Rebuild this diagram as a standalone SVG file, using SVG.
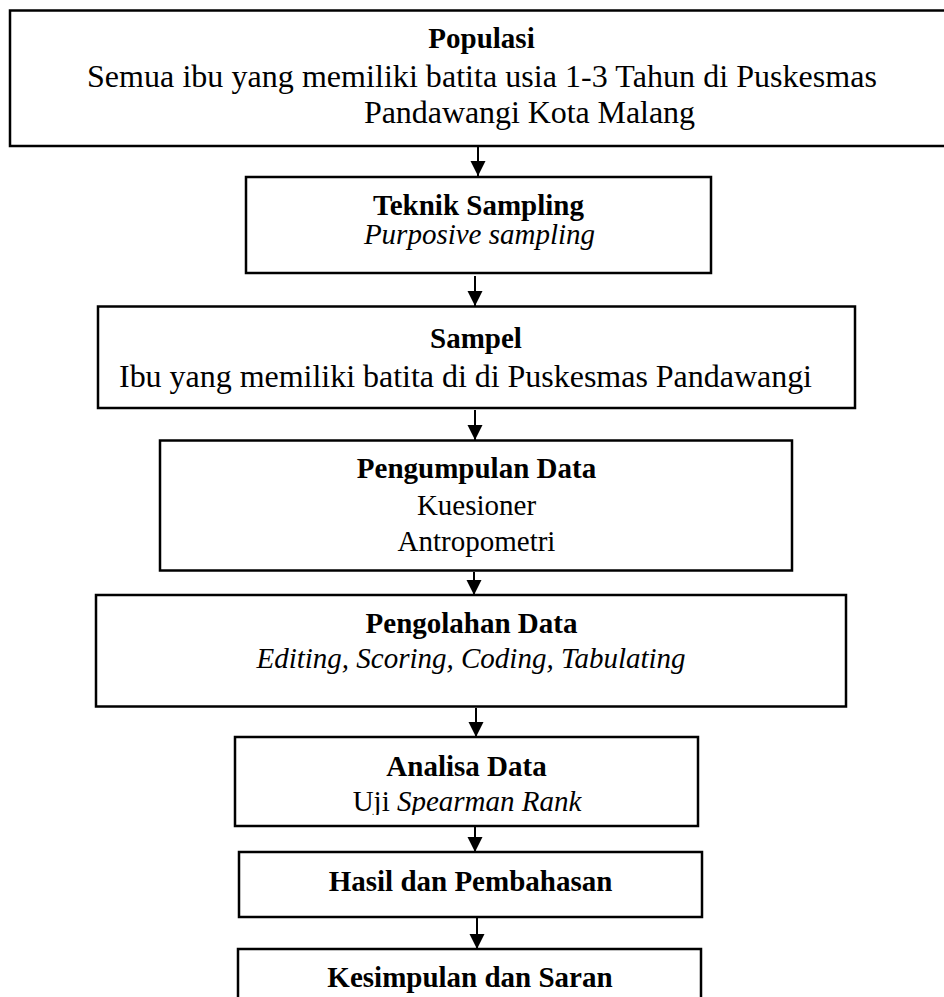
<svg xmlns="http://www.w3.org/2000/svg" width="944" height="997" viewBox="0 0 944 997">
<style>
.box{fill:#fff;stroke:#000;stroke-width:2.5}
.t{font-family:"Liberation Serif","Times New Roman",serif;font-size:29px;fill:#000;text-anchor:middle}
.b{font-weight:bold}
.i{font-style:italic}
.big{font-size:32px}
.c{stroke:#000;stroke-width:2;fill:none}
</style>
<defs>
<marker id="ah" viewBox="0 0 10 10" refX="10" refY="5" markerWidth="15" markerHeight="16" markerUnits="userSpaceOnUse" orient="auto">
<path d="M0,0 L10,5 L0,10 z" fill="#000"/>
</marker>
<clipPath id="clip6"><rect x="235" y="737" width="463" height="78"/></clipPath>
</defs>
<rect width="944" height="997" fill="#fff"/>
<g id="connectors">
<line class="c" x1="478" y1="147" x2="478" y2="176" marker-end="url(#ah)"/>
<line class="c" x1="475" y1="276" x2="475" y2="306" marker-end="url(#ah)"/>
<line class="c" x1="475" y1="410" x2="475" y2="440" marker-end="url(#ah)"/>
<line class="c" x1="474" y1="572" x2="474" y2="595" marker-end="url(#ah)"/>
<line class="c" x1="476" y1="708" x2="476" y2="737" marker-end="url(#ah)"/>
<line class="c" x1="475" y1="826" x2="475" y2="852" marker-end="url(#ah)"/>
<line class="c" x1="477" y1="918" x2="477" y2="949" marker-end="url(#ah)"/>
</g>
<g id="populasi">
<rect class="box" x="10" y="10.5" width="940" height="135.5"/>
<text class="t b" x="481.5" y="47.5">Populasi</text>
<text class="t big" x="87" y="87" style="text-anchor:start" textLength="790" lengthAdjust="spacing">Semua ibu yang memiliki batita usia 1-3 Tahun di Puskesmas</text>
<text class="t big" x="364" y="123" style="text-anchor:start" textLength="331" lengthAdjust="spacing">Pandawangi Kota Malang</text>
</g>
<g id="teknik-sampling">
<rect class="box" x="246" y="177" width="465" height="96"/>
<text class="t b" x="478.5" y="215">Teknik Sampling</text>
<text class="t i" x="479.5" y="244">Purposive sampling</text>
</g>
<g id="sampel">
<rect class="box" x="98" y="306.5" width="757" height="101.5"/>
<text class="t b" x="476" y="348">Sampel</text>
<text class="t big" x="119" y="387" style="text-anchor:start" textLength="693" lengthAdjust="spacing">Ibu yang memiliki batita di di Puskesmas Pandawangi</text>
</g>
<g id="pengumpulan-data">
<rect class="box" x="160" y="440.5" width="632" height="130"/>
<text class="t b" x="476.5" y="478">Pengumpulan Data</text>
<text class="t" x="476.5" y="515">Kuesioner</text>
<text class="t" x="476.5" y="551">Antropometri</text>
</g>
<g id="pengolahan-data">
<rect class="box" x="96" y="595" width="750" height="111.5"/>
<text class="t b" x="471.5" y="633">Pengolahan Data</text>
<text class="t i" x="471" y="668">Editing, Scoring, Coding, Tabulating</text>
</g>
<g id="analisa-data">
<rect class="box" x="235" y="737" width="463" height="89"/>
<g clip-path="url(#clip6)">
<text class="t b" x="466.5" y="776">Analisa Data</text>
<text class="t" x="467" y="811">Uji <tspan class="i">Spearman Rank</tspan></text>
</g>
</g>
<g id="hasil-pembahasan">
<rect class="box" x="239" y="852" width="463" height="65"/>
<text class="t b" x="470.5" y="891">Hasil dan Pembahasan</text>
</g>
<g id="kesimpulan-saran">
<rect class="box" x="238" y="949" width="463" height="60"/>
<text class="t b" x="470" y="987">Kesimpulan dan Saran</text>
</g>
</svg>
